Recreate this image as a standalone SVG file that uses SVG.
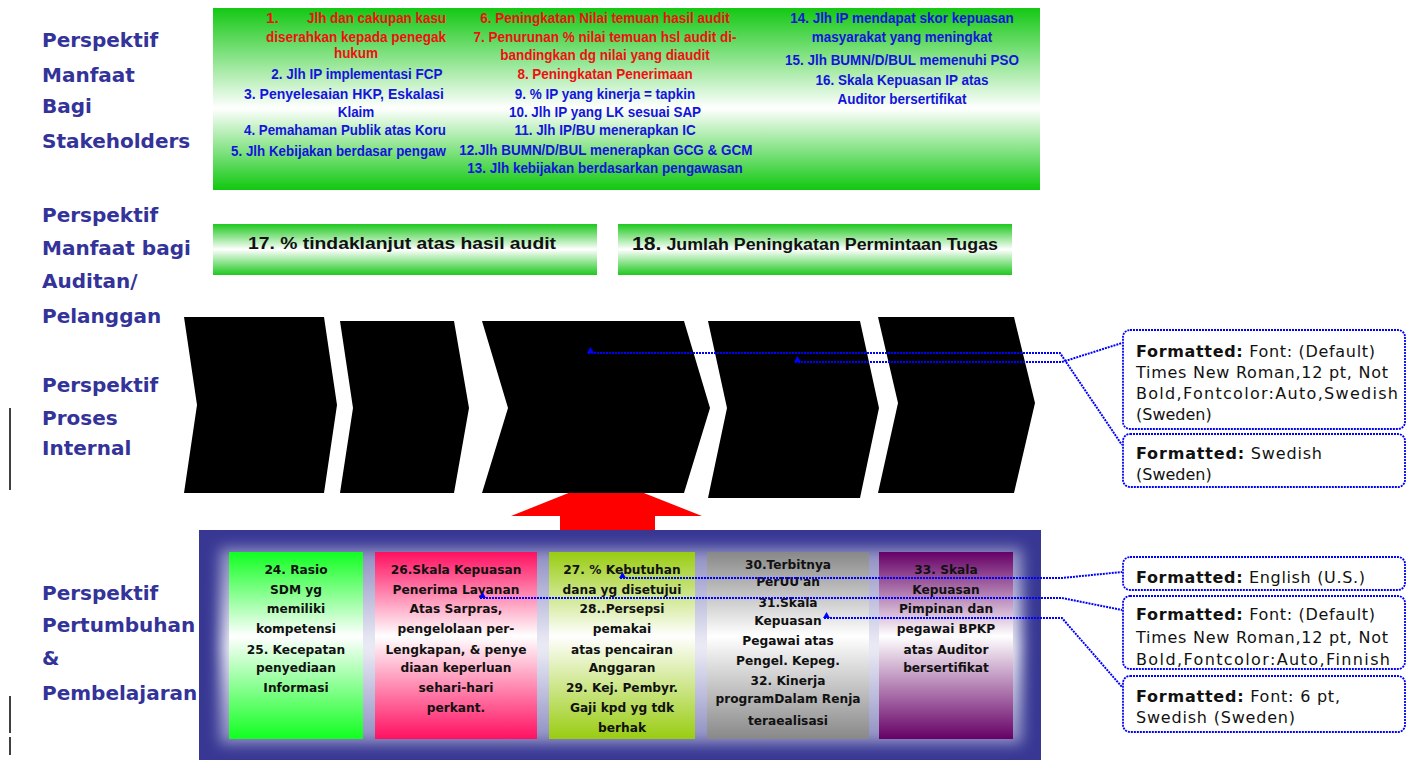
<svg xmlns="http://www.w3.org/2000/svg" width="1415" height="760" viewBox="0 0 1415 760">
<defs>
<linearGradient id="gTop" x1="0" y1="0" x2="0" y2="1">
<stop offset="0" stop-color="#14c814"/><stop offset="0.55" stop-color="#ffffff"/><stop offset="1" stop-color="#10c810"/>
</linearGradient>
<linearGradient id="gBar" x1="0" y1="0" x2="0" y2="1">
<stop offset="0" stop-color="#1ec81e"/><stop offset="0.5" stop-color="#ffffff"/><stop offset="1" stop-color="#1ec81e"/>
</linearGradient>
<linearGradient id="gGlow" x1="0" y1="0" x2="0" y2="1">
<stop offset="0" stop-color="#8a8ac0"/><stop offset="0.5" stop-color="#eeeef8"/><stop offset="1" stop-color="#8a8ac0"/>
</linearGradient>
<linearGradient id="gC1" x1="0" y1="0" x2="0" y2="1"><stop offset="0" stop-color="#10ff20"/><stop offset="0.45" stop-color="#ffffff"/><stop offset="1" stop-color="#10ff20"/></linearGradient>
<linearGradient id="gC2" x1="0" y1="0" x2="0" y2="1"><stop offset="0" stop-color="#ff1060"/><stop offset="0.45" stop-color="#ffffff"/><stop offset="1" stop-color="#ff1060"/></linearGradient>
<linearGradient id="gC3" x1="0" y1="0" x2="0" y2="1"><stop offset="0" stop-color="#99cc11"/><stop offset="0.45" stop-color="#ffffff"/><stop offset="1" stop-color="#99cc11"/></linearGradient>
<linearGradient id="gC4" x1="0" y1="0" x2="0" y2="1"><stop offset="0" stop-color="#888888"/><stop offset="0.45" stop-color="#ffffff"/><stop offset="1" stop-color="#888888"/></linearGradient>
<linearGradient id="gC5" x1="0" y1="0" x2="0" y2="1"><stop offset="0" stop-color="#660066"/><stop offset="0.45" stop-color="#ffffff"/><stop offset="1" stop-color="#660066"/></linearGradient>
<filter id="blur" x="-10%" y="-20%" width="120%" height="140%"><feGaussianBlur stdDeviation="7"/></filter>
<marker id="tri" markerUnits="userSpaceOnUse" markerWidth="8" markerHeight="7" refX="1" refY="6" orient="0" overflow="visible">
<path d="M0,6 L3.5,0 L7,6 Z" fill="#0000ff"/>
</marker>
<style>
.lab{font-family:"DejaVu Sans",sans-serif;font-weight:bold;font-size:20px;fill:#333399}
.top{font-family:"Liberation Sans",Arial,sans-serif;font-weight:bold;font-size:15.5px;text-anchor:middle}
.st{text-anchor:start}
.red{fill:#ee1111}
.blu{fill:#1414dc}
.bar{font-family:"Liberation Sans",Arial,sans-serif;font-weight:bold;fill:#111}
.card{font-family:"DejaVu Sans",sans-serif;font-weight:bold;font-size:12.2px;fill:#111;text-anchor:middle}
.chev{fill:#000}
.cbox{fill:#fff;stroke:#0000ff;stroke-width:1.8;stroke-dasharray:2 1}
.ctxt{font-family:"DejaVu Sans",sans-serif;font-size:16px;fill:#111}
.conn{fill:none;stroke:#0000ff;stroke-width:2;stroke-dasharray:2 1}
.vbar{stroke:#000;stroke-width:1.5}
</style>
</defs>
<rect width="1415" height="760" fill="#ffffff"/>

<g id="labels">
<text class="lab" x="42" y="47">Perspektif</text>
<text class="lab" x="42" y="82">Manfaat</text>
<text class="lab" x="42" y="113">Bagi</text>
<text class="lab" x="42" y="148">Stakeholders</text>
<text class="lab" x="42" y="222">Perspektif</text>
<text class="lab" x="42" y="255">Manfaat bagi</text>
<text class="lab" x="42" y="288">Auditan/</text>
<text class="lab" x="42" y="323">Pelanggan</text>
<text class="lab" x="42" y="392">Perspektif</text>
<text class="lab" x="42" y="425">Proses</text>
<text class="lab" x="42" y="455">Internal</text>
<text class="lab" x="42" y="600">Perspektif</text>
<text class="lab" x="42" y="632">Pertumbuhan</text>
<text class="lab" x="42" y="665">&amp;</text>
<text class="lab" x="42" y="700">Pembelajaran</text>
<line class="vbar" x1="10" y1="408" x2="10" y2="490"/>
<line class="vbar" x1="10" y1="696" x2="10" y2="733"/>
<line class="vbar" x1="10" y1="737" x2="10" y2="755"/>
</g>

<g id="stakeholders">
<rect x="213" y="8" width="827" height="182" fill="url(#gTop)"/>
<text class="top red st" x="266" y="23">1.</text>
<text class="top red st" x="307" y="23" textLength="139" lengthAdjust="spacingAndGlyphs">Jlh dan cakupan kasu</text>
<text class="top red st" x="266" y="42" textLength="180" lengthAdjust="spacingAndGlyphs">diserahkan kepada penegak</text>
<text class="top blu st" x="244" y="99" textLength="200" lengthAdjust="spacingAndGlyphs">3. Penyelesaian HKP, Eskalasi</text>
<text class="top blu st" x="244" y="135" textLength="202" lengthAdjust="spacingAndGlyphs">4. Pemahaman Publik atas Koru</text>
<text class="top blu st" x="231" y="156" textLength="215" lengthAdjust="spacingAndGlyphs">5. Jlh Kebijakan berdasar pengaw</text>
<g transform="translate(356 0) scale(0.87 1)">
<text class="top red" x="0" y="58">hukum</text>
<text class="top blu" x="1" y="79">2. Jlh IP implementasi FCP</text>
<text class="top blu" x="0" y="117">Klaim</text>
</g>
<g transform="translate(605 0) scale(0.87 1)">
<text class="top red" x="0" y="23">6. Peningkatan Nilai temuan hasil audit</text>
<text class="top red" x="0" y="42">7. Penurunan % nilai temuan hsl audit di-</text>
<text class="top red" x="0" y="60">bandingkan dg nilai yang diaudit</text>
<text class="top red" x="0" y="79">8. Peningkatan Penerimaan</text>
<text class="top blu" x="0" y="99">9. % IP yang kinerja = tapkin</text>
<text class="top blu" x="0" y="117">10. Jlh IP yang LK sesuai SAP</text>
<text class="top blu" x="0" y="135">11. Jlh IP/BU menerapkan IC</text>
<text class="top blu" x="1" y="155">12.Jlh BUMN/D/BUL menerapkan GCG &amp; GCM</text>
<text class="top blu" x="0" y="173">13. Jlh kebijakan berdasarkan pengawasan</text>
</g>
<g transform="translate(902 0) scale(0.87 1)">
<text class="top blu" x="0" y="23">14. Jlh IP mendapat skor kepuasan</text>
<text class="top blu" x="0" y="42">masyarakat yang meningkat</text>
<text class="top blu" x="0" y="65">15. Jlh BUMN/D/BUL memenuhi PSO</text>
<text class="top blu" x="0" y="85">16. Skala Kepuasan IP atas</text>
<text class="top blu" x="0" y="104">Auditor bersertifikat</text>
</g>
</g>

<g id="bar17">
<rect x="213" y="224" width="384" height="51" fill="url(#gBar)"/>
<text class="bar" x="248" y="249" font-size="16.5" textLength="308" lengthAdjust="spacingAndGlyphs">17. % tindaklanjut atas hasil  audit</text>
</g>
<g id="bar18">
<rect x="618" y="224" width="394" height="51" fill="url(#gBar)"/>
<text class="bar" x="632" y="250" textLength="366" lengthAdjust="spacingAndGlyphs"><tspan font-size="19">18.</tspan><tspan font-size="16"> Jumlah Peningkatan Permintaan Tugas</tspan></text>
</g>

<g id="redarrow">
<polygon points="606,478 702,516 655,516 655,535 560,535 560,516 511,516" fill="#ff0000"/>
</g>

<g id="chevrons">
<polygon class="chev" id="chev1" points="184,317 324,317 337,405 324,493 184,493 197,405"/>
<polygon class="chev" id="chev2" points="340,321 454,321 469,408 454,493 340,493 353,408"/>
<polygon class="chev" id="chev3" points="482,321 684,321 710,408 684,493 482,493 508,408"/>
<polygon class="chev" id="chev4" points="708,321 860,321 879,408 860,498 708,498 727,408"/>
<polygon class="chev" id="chev5" points="878,317 1014,317 1035,403 1014,493 878,493 898,403"/>
</g>

<g id="learning">
<rect x="199" y="530" width="842" height="230" fill="#383894"/>
<rect x="220" y="548" width="802" height="196" fill="url(#gGlow)" filter="url(#blur)"/>
<g id="card24">
<rect x="229" y="552" width="134" height="187" fill="url(#gC1)"/>
<text class="card" x="296" y="574">24. Rasio</text>
<text class="card" x="296" y="594">SDM yg</text>
<text class="card" x="296" y="613">memiliki</text>
<text class="card" x="296" y="633">kompetensi</text>
<text class="card" x="296" y="654">25. Kecepatan</text>
<text class="card" x="296" y="672">penyediaan</text>
<text class="card" x="296" y="692">Informasi</text>
</g>
<g id="card26">
<rect x="375" y="552" width="162" height="187" fill="url(#gC2)"/>
<text class="card" x="456" y="574">26.Skala Kepuasan</text>
<text class="card" x="456" y="594">Penerima Layanan</text>
<text class="card" x="456" y="613">Atas Sarpras,</text>
<text class="card" x="456" y="633">pengelolaan per-</text>
<text class="card" x="456" y="654">Lengkapan, &amp; penye</text>
<text class="card" x="456" y="672">diaan keperluan</text>
<text class="card" x="456" y="692">sehari-hari</text>
<text class="card" x="456" y="712">perkant.</text>
</g>
<g id="card27">
<rect x="549" y="552" width="146" height="187" fill="url(#gC3)"/>
<text class="card" x="622" y="574">27. % Kebutuhan</text>
<text class="card" x="622" y="594">dana yg disetujui</text>
<text class="card" x="622" y="613">28..Persepsi</text>
<text class="card" x="622" y="633">pemakai</text>
<text class="card" x="622" y="654">atas pencairan</text>
<text class="card" x="622" y="672">Anggaran</text>
<text class="card" x="622" y="692">29. Kej. Pembyr.</text>
<text class="card" x="622" y="712">Gaji kpd yg tdk</text>
<text class="card" x="622" y="732">berhak</text>
</g>
<g id="card30">
<rect x="707" y="552" width="162" height="187" fill="url(#gC4)"/>
<text class="card" x="788" y="569">30.Terbitnya</text>
<text class="card" x="788" y="586">PerUU'an</text>
<text class="card" x="788" y="607">31.Skala</text>
<text class="card" x="788" y="625">Kepuasan</text>
<text class="card" x="788" y="645">Pegawai atas</text>
<text class="card" x="788" y="665">Pengel. Kepeg.</text>
<text class="card" x="788" y="685">32. Kinerja</text>
<text class="card" x="788" y="703">programDalam Renja</text>
<text class="card" x="788" y="725">teraealisasi</text>
</g>
<g id="card33">
<rect x="879" y="552" width="134" height="187" fill="url(#gC5)"/>
<text class="card" x="946" y="574">33. Skala</text>
<text class="card" x="946" y="594">Kepuasan</text>
<text class="card" x="946" y="613">Pimpinan dan</text>
<text class="card" x="946" y="633">pegawai BPKP</text>
<text class="card" x="946" y="654">atas Auditor</text>
<text class="card" x="946" y="672">bersertifikat</text>
</g>
</g>

<g id="connectors">
<path class="conn" d="M588,353 H1060 L1122,445" marker-start="url(#tri)"/>
<path class="conn" d="M795,362 H1062 L1122,343" marker-start="url(#tri)"/>
<path class="conn" d="M620,578 H1062 L1122,572" marker-start="url(#tri)"/>
<path class="conn" d="M480,598 H1062 L1122,610" marker-start="url(#tri)"/>
<path class="conn" d="M824,618 H1062 L1122,687" marker-start="url(#tri)"/>
</g>

<g id="commentA">
<rect class="cbox" x="1123" y="330" width="282" height="99" rx="7"/>
<text class="ctxt" x="1136" y="357" textLength="239" lengthAdjust="spacing"><tspan font-weight="bold">Formatted:</tspan> Font: (Default)</text>
<text class="ctxt" x="1136" y="378" textLength="252" lengthAdjust="spacing">Times New Roman,12 pt, Not</text>
<text class="ctxt" x="1136" y="399" textLength="262" lengthAdjust="spacing">Bold,Fontcolor:Auto,Swedish</text>
<text class="ctxt" x="1136" y="420">(Sweden)</text>
</g>
<g id="commentB">
<rect class="cbox" x="1123" y="434" width="282" height="53" rx="7"/>
<text class="ctxt" x="1136" y="459" textLength="186" lengthAdjust="spacing"><tspan font-weight="bold">Formatted:</tspan> Swedish</text>
<text class="ctxt" x="1136" y="480">(Sweden)</text>
</g>
<g id="commentC">
<rect class="cbox" x="1123" y="557" width="282" height="33" rx="7"/>
<text class="ctxt" x="1136" y="583" textLength="229" lengthAdjust="spacing"><tspan font-weight="bold">Formatted:</tspan> English (U.S.)</text>
</g>
<g id="commentD">
<rect class="cbox" x="1123" y="596" width="282" height="73" rx="7"/>
<text class="ctxt" x="1136" y="620" textLength="239" lengthAdjust="spacing"><tspan font-weight="bold">Formatted:</tspan> Font: (Default)</text>
<text class="ctxt" x="1136" y="643" textLength="252" lengthAdjust="spacing">Times New Roman,12 pt, Not</text>
<text class="ctxt" x="1136" y="665" textLength="254" lengthAdjust="spacing">Bold,Fontcolor:Auto,Finnish</text>
</g>
<g id="commentE">
<rect class="cbox" x="1123" y="676" width="282" height="56" rx="7"/>
<text class="ctxt" x="1136" y="702" textLength="204" lengthAdjust="spacing"><tspan font-weight="bold">Formatted:</tspan> Font: 6 pt,</text>
<text class="ctxt" x="1136" y="723" textLength="159" lengthAdjust="spacing">Swedish (Sweden)</text>
</g>
</svg>
